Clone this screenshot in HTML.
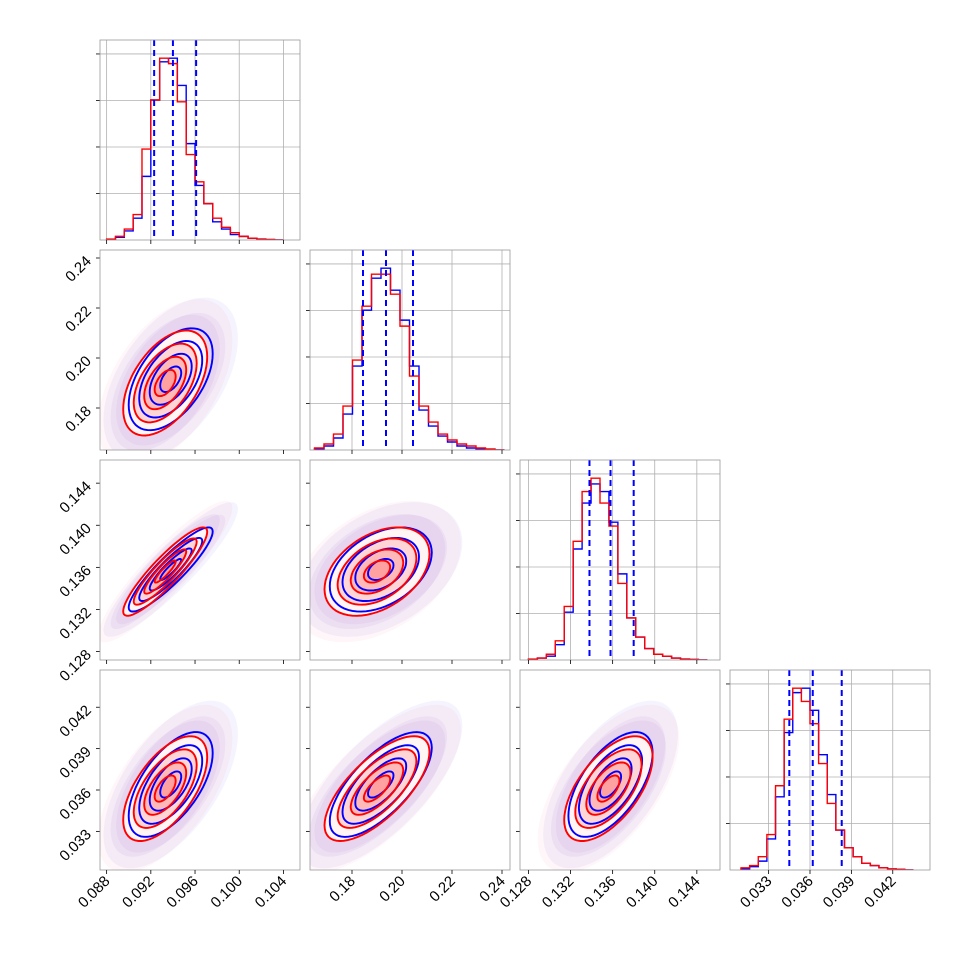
<!DOCTYPE html>
<html><head><meta charset="utf-8"><style>
body{margin:0;background:#fff}
svg{display:block;font-family:"Liberation Sans",sans-serif}
</style></head><body>
<svg id="chart" width="970" height="970" xmlns="http://www.w3.org/2000/svg"></svg>
<script>
// ---- data ----
const paramRanges = [[0.0874,0.1055],[0.1632,0.2432],[0.1272,0.1462],[0.0302,0.0447]];
const tickValues = [[0.088,0.092,0.096,0.100,0.104],[0.18,0.20,0.22,0.24],[0.128,0.132,0.136,0.140,0.144],[0.033,0.036,0.039,0.042]];
const tickLabels = [["0.088","0.092","0.096","0.100","0.104"],["0.18","0.20","0.22","0.24"],["0.128","0.132","0.136","0.140","0.144"],["0.033","0.036","0.039","0.042"]];
const histStart = [0.0880,0.1650,0.1280,0.0310];
const histEnd = [0.1040,0.2410,0.1450,0.0435];
const histRed0 = [0.5,2,6,14,50,77,100,97,76,47,32,20,12,7,4,2,1,0.5,0.3,0];
const histBlue0 = [0.3,1.5,5,12,35,77,98,100,85,53,30,20,10,6,3,2,1,0.5,0.2,0];
const histRed1 = [1,3,8,22,45,72,88,88,78,62,37,22,14,8,5,3,2,1,0.5,0];
const histBlue1 = [0.5,2,6,18,42,70,86,91,80,65,42,20,12,7,4,2,1,0.5,0.3,0];
const histRed2 = [0.5,1,3,10,28,62,88,95,82,70,40,22,12,6,3,2,1,0.5,0.3,0];
const histBlue2 = [0.3,1,2,8,25,58,82,92,88,72,45,22,12,6,3,2,1,0.5,0.3,0];
const histRed3 = [1,2,6,16,38,68,82,76,66,48,30,18,10,6,3,2,1,0.5,0.3,0];
const histBlue3 = [0.5,1.5,4,14,33,62,80,82,72,52,34,18,10,6,3,2,1,0.5,0.3,0];
const quantiles = [[0.0923,0.0940,0.0961],[0.1844,0.1936,0.2044],[0.1338,0.1358,0.1380],[0.0345,0.0362,0.0383]];
const meanRed = [0.0933,0.1900,0.1356,0.0361];
const meanBlue = [0.0938,0.1915,0.1358,0.0364];
const sdRed = [0.0019,0.0105,0.0021,0.0019];
const sdBlue = [0.0019,0.0102,0.0020,0.0019];
const corr = [[1,0.5,0.9,0.6],[0.5,1,0.4,0.7],[0.9,0.4,1,0.6],[0.6,0.7,0.6,1]];
const sigmaLevels = [0.5,1,1.5,2];

const NS="http://www.w3.org/2000/svg";
const svg=document.getElementById('chart');
function el(tag,attrs,parent){const e=document.createElementNS(NS,tag);for(const k in attrs)e.setAttribute(k,attrs[k]);(parent||svg).appendChild(e);return e;}
const P0=[100,310,520,730], S=200;
function xs(p,v,col){const r=paramRanges[p];return P0[col]+(v-r[0])/(r[1]-r[0])*S;}
function rowTop(r){return 40+r*210;}
function yv(p,v,row){const r=paramRanges[p];return rowTop(row)+S-(v-r[0])/(r[1]-r[0])*S;}
const hists=[[histRed0,histBlue0],[histRed1,histBlue1],[histRed2,histBlue2],[histRed3,histBlue3]];

for(let i=0;i<4;i++){
  for(let j=0;j<=i;j++){
    const x0=P0[j], y0=rowTop(i);
    const g=el('g',{});
    
    
    const cp=el('clipPath',{id:'c'+i+j},g);el('rect',{x:x0,y:y0,width:S,height:S},cp);
    const inner=el('g',{'clip-path':'url(#c'+i+j+')'},g);
    if(i===j){
      tickValues[i].forEach(v=>{const x=xs(i,v,j);el('line',{x1:x,x2:x,y1:y0,y2:y0+S,stroke:'#b0b0b0','stroke-width':0.8},inner);});
      const hr=hists[i], mx=Math.max(...hr[0],...hr[1])*1.1;
      for(let k=1;k<=4;k++){const y=y0+S-k*S/4.3;el('line',{x1:x0,x2:x0+S,y1:y,y2:y,stroke:'#b0b0b0','stroke-width':0.8},inner);
        el('line',{x1:x0-4,x2:x0,y1:y,y2:y,stroke:'#000','stroke-width':0.8},g);}
      const n=hr[0].length, w=(histEnd[i]-histStart[i])/n;
      [[hr[1],'#0000ff'],[hr[0],'#ff0000']].forEach(([arr,c])=>{
        let d='M'+xs(i,histStart[i],j)+','+(y0+S);
        arr.forEach((v,k)=>{const y=y0+S-v/mx*S;d+=' L'+xs(i,histStart[i]+k*w,j)+','+y+' L'+xs(i,histStart[i]+(k+1)*w,j)+','+y;});
        const p=el('path',{d:d,fill:'none',stroke:c,'stroke-width':1.4},inner);
        
        
      });
      quantiles[i].forEach(q=>{const x=xs(i,q,j);const l=el('line',{x1:x,x2:x,y1:y0,y2:y0+S,stroke:'#0000ff','stroke-width':2,'stroke-dasharray':'6,4'},inner);
        });
    } else {
      const sets=[[meanBlue,sdBlue,'#0000ff'],[meanRed,sdRed,'#ff0000']];
      sets.forEach(([m,s,c])=>{
        el('path',{d:ell(m,s,j,i,3.2),fill:c==='#ff0000'?'rgba(240,140,160,0.08)':'rgba(140,130,240,0.09)',stroke:'none'},inner);
        el('path',{d:ell(m,s,j,i,2.6),fill:'rgba(180,120,210,0.10)',stroke:'none'},inner);
      });
      el('path',{d:ell(meanRed,sdRed,j,i,2),fill:'#fff',stroke:'none'},inner);
      el('path',{d:ell(meanRed,sdRed,j,i,2),fill:'rgba(255,0,0,0.04)',stroke:'none'},inner);
      [1.5,1,0.5].forEach(k=>el('path',{d:ell(meanRed,sdRed,j,i,k),fill:'rgba(255,0,0,0.13)',stroke:'none'},inner));
      sets.forEach(([m,s,c])=>{sigmaLevels.forEach(k=>{const p=el('path',{d:ell(m,s,j,i,k),fill:'none',stroke:c,'stroke-width':1.9},inner);
        });});
      tickValues[i].forEach(v=>{const y=yv(i,v,i);el('line',{x1:x0-4,x2:x0,y1:y,y2:y,stroke:'#000','stroke-width':0.8},g);});
    }
    el('rect',{x:x0,y:y0,width:S,height:S,fill:'none',stroke:'#999','stroke-width':0.8},g);
    tickValues[j].forEach(v=>{const x=xs(j,v,j);el('line',{x1:x,x2:x,y1:y0+S,y2:y0+S+4,stroke:'#000','stroke-width':0.8},g);});
    if(i===3){tickValues[j].forEach((v,k)=>{const x=xs(j,v,j);const t=el('text',{x:x+4,y:y0+S+12,'font-size':15,'text-anchor':'end',transform:'rotate(-45 '+(x+4)+' '+(y0+S+12)+')'},g);t.textContent=tickLabels[j][k];
      });}
    if(j===0&&i>0){tickValues[i].forEach((v,k)=>{const y=yv(i,v,i);const t=el('text',{x:x0-8,y:y+4,'font-size':15,'text-anchor':'end',transform:'rotate(-45 '+(x0-8)+' '+(y+4)+')'},g);t.textContent=tickLabels[i][k];
      });}
  }
}
function ell(m,s,px,py,k){
  const r=corr[px][py];let d='';
  for(let a=0;a<=64;a++){const t=a/64*2*Math.PI;
    const vx=m[px]+k*s[px]*Math.cos(t), vy=m[py]+k*s[py]*(r*Math.cos(t)+Math.sqrt(1-r*r)*Math.sin(t));
    d+=(a?'L':'M')+xs(px,vx,px).toFixed(1)+','+yv(py,vy,py).toFixed(1);}
  return d+'Z';
}
</script>
</body></html>
